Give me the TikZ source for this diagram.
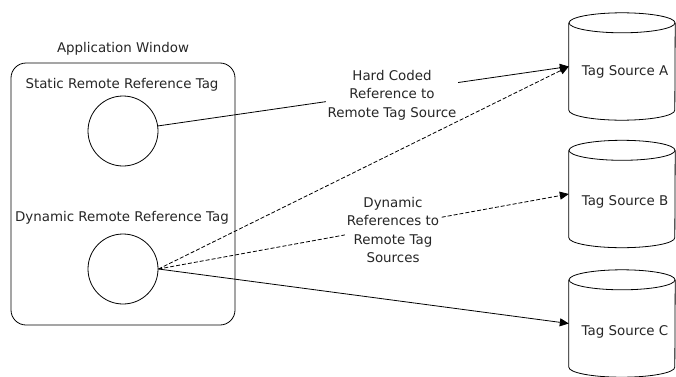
\documentclass[tikz,border=0pt]{standalone}
\usepackage{fontspec}
\setmainfont{DejaVu Sans}
\usetikzlibrary{arrows.meta}
\begin{document}
\begin{tikzpicture}[x=1pt,y=1pt,
  every node/.style={font=\fontsize{13.4}{18.5}\selectfont, text=black!85},
  tagcircle/.style={draw, circle, minimum size=70pt, inner sep=0pt, line width=0.8pt},
  body/.style={minimum width=106pt, minimum height=87pt, inner sep=0pt},
  lbl/.style={fill=white, align=center, inner sep=1.5pt},
  conn/.style={line width=0.8pt, -{Triangle[length=9pt,width=8pt]}},
  dconn/.style={conn, dash pattern=on 4pt off 2pt},
  cyl/.style={line width=0.8pt, fill=white}
]
\useasboundingbox (0,0) rectangle (676,376);
% application window
\node[draw, rounded corners=15pt, line width=0.8pt, minimum width=224pt, minimum height=262pt, inner sep=0pt] (win) at (123,182) {};
\node (wintitle) at (123,327) {Application Window};
\node (statlbl) at (122,291) {Static Remote Reference Tag};
\node (dynlbl) at (122,158) {Dynamic Remote Reference Tag};
\node[tagcircle] (c1) at (123,245) {};
\node[tagcircle] (c2) at (123,107) {};
% cylinders
\node[body] (srcA) at (622,309.5) {};
\node[body] (srcB) at (622,182) {};
\node[body] (srcC) at (622,52.5) {};
\foreach \s in {srcA,srcB,srcC}{
  \draw[cyl] (\s.north west) -- (\s.south west) arc[start angle=180, end angle=360, x radius=53pt, y radius=10pt] -- (\s.north east);
  \draw[cyl] (\s.north) ellipse [x radius=53pt, y radius=10pt];
}
\node (tA) at (625,304) {Tag Source A};
\node (tB) at (625,174) {Tag Source B};
\node (tC) at (625,44) {Tag Source C};
% connectors
\draw[conn] (c1) -- (srcA.west);
\node[lbl] (hard) at (392,281) {Hard Coded\\Reference to\\Remote Tag Source};
\draw[dconn] (c2.east) -- (srcA.west);
\draw[dconn] (c2.east) -- (srcB.west);
\node[lbl] (dyn) at (393,146) {Dynamic\\References to\\Remote Tag\\Sources};
\draw[conn] (c2.east) -- (srcC.west);
\end{tikzpicture}
\end{document}
